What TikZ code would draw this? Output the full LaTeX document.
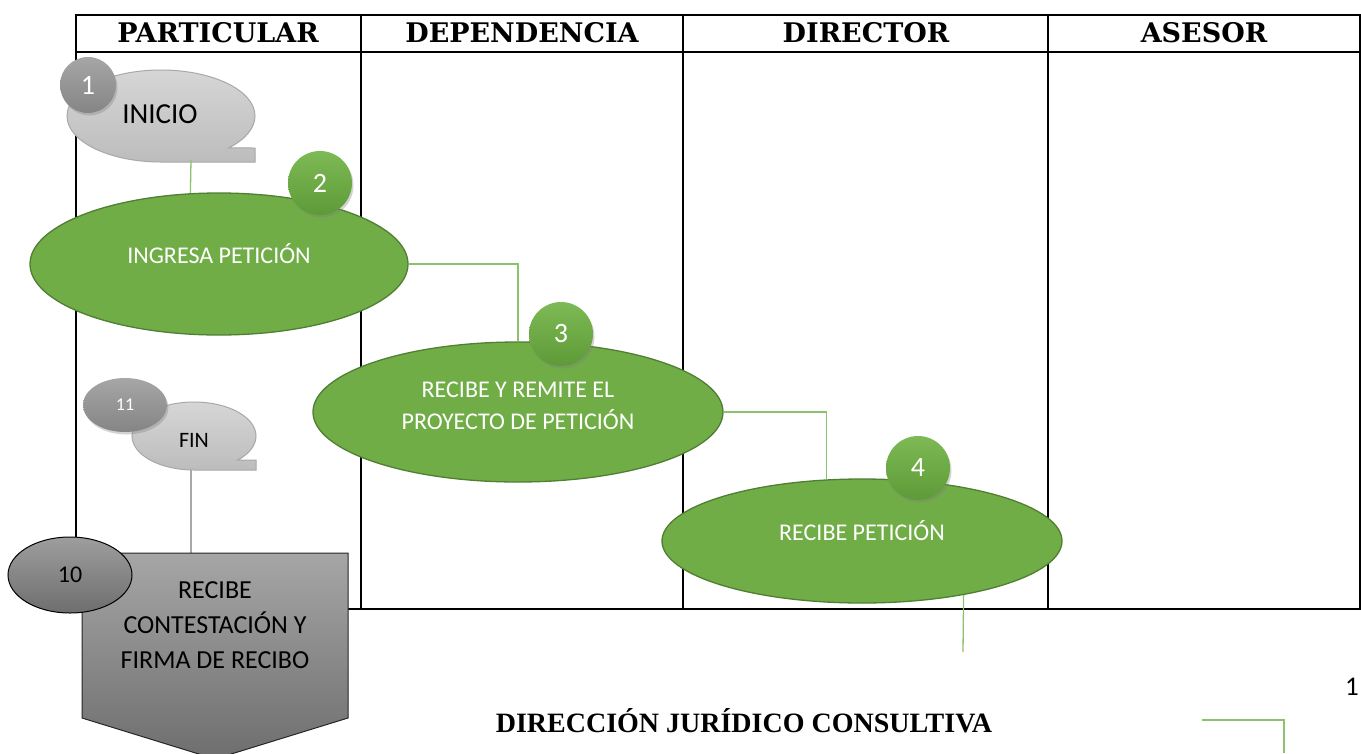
\documentclass[tikz,border=0pt]{standalone}
\usepackage{fontspec}
\setmainfont{Carlito}
\newfontfamily\encabezado{DejaVu Serif}
\newfontfamily\titulofont{Liberation Serif}
\usepackage{tikz}
\usetikzlibrary{shapes.geometric,shadows,calc}

\definecolor{verde}{HTML}{70AD47}
\definecolor{verdeosc}{HTML}{507E32}
\definecolor{verdeclaro}{HTML}{7DBA55}
\definecolor{verdeoscuro}{HTML}{5E9B38}
\definecolor{linverde}{HTML}{8DC26C}
\definecolor{grisclaro}{HTML}{D6D6D6}
\definecolor{grisborde}{HTML}{A8A8A8}
\definecolor{grismed}{HTML}{A6A6A6}
\definecolor{grisosc}{HTML}{6E6E6E}

\tikzset{
  tabla/.style={line width=2pt},
  actividad/.style={ellipse, draw=verdeosc, line width=1.3pt, fill=verde, inner sep=0pt},
  textoact/.style={text=white, font=\fontsize{24}{32}\selectfont, align=center},
  numverde/.style={circle, minimum size=64pt, inner sep=0pt, text=white,
    top color=verdeclaro, bottom color=verdeoscuro,
    drop shadow={opacity=0.35, shadow xshift=1.5pt, shadow yshift=-2.5pt},
    font=\fontsize{28}{30}\selectfont},
  numgris/.style={ellipse, inner sep=0pt, text=white, top color=grismed, bottom color=grismed!80!black,
    drop shadow={opacity=0.35, shadow xshift=1.5pt, shadow yshift=-2.5pt}},
  llamada/.style={draw=grisborde, line width=1pt, top color=grisclaro, bottom color=grisclaro!88!black},
  conector/.style={draw=linverde, line width=1.3pt},
  congris/.style={draw=grisborde, line width=1.3pt},
}

\begin{document}
\begin{tikzpicture}[x=1pt, y=-1pt]
    \useasboundingbox (0,0) rectangle (1361,753);

    % carriles
    \draw[tabla] (76,15) rectangle (1360,609);
    \draw[tabla] (76,52) -- (1360,52);
    \foreach \xx in {361,683,1048}
        \draw[tabla] (\xx,15) -- (\xx,609);
    \foreach \xx/\nombre/\txt in {218/hpart/PARTICULAR, 522/hdep/DEPENDENCIA, 866/hdir/DIRECTOR, 1204/hase/ASESOR}
        \node[font=\encabezado\bfseries\fontsize{27}{30}\selectfont] (\nombre) at (\xx,33) {\txt};

    % inicio
    \path[llamada] (161,162) arc[start angle=90, end angle=404, x radius=94, y radius=46]
        -- (255,148) -- (255,162) -- cycle;
    \node[font=\fontsize{29}{32}\selectfont] (inicio) at (160,114) {INICIO};
    \coordinate (iniB) at (191,160);

    % actividades
    \node[actividad, minimum width=378pt, minimum height=142pt,
        label={[textoact, yshift=10pt]center:INGRESA PETICIÓN}] (ingresa) at (219,264) {};
    \node[actividad, minimum width=410pt, minimum height=140pt,
        label={[textoact, yshift=6pt]center:RECIBE Y REMITE EL\\PROYECTO DE PETICIÓN}] (remite) at (518,412) {};
    \node[actividad, minimum width=400pt, minimum height=124pt,
        label={[textoact, yshift=10pt]center:RECIBE PETICIÓN}] (recibe) at (862,541) {};

    \draw[conector] (iniB) -- (ingresa.112);
    \draw[conector] (ingresa.east) -| (remite.north);
    \draw[conector] (remite.east) -| (recibe.120);
    \coordinate (salida) at (963,652);
    \draw[conector] (recibe.-28) -- (salida);

    % numeros
    \node[numgris, circle, minimum size=56pt, font=\fontsize{28}{30}\selectfont] (n1) at (88,85) {1};
    \node[numverde] (n2) at (320,183) {2};
    \node[numverde] (n3) at (561,334) {3};
    \node[numverde] (n4) at (918,468) {4};

    % fin
    \path[llamada] (194,470) arc[start angle=90, end angle=405, x radius=62, y radius=34]
        -- (256,460) -- (256,470) -- cycle;
    \node[font=\fontsize{22}{26}\selectfont] (fin) at (194,440) {FIN};
    \node[numgris, minimum width=84pt, minimum height=54pt, font=\fontsize{18}{20}\selectfont] (n11) at (125,405) {11};
    \coordinate (finB) at (191,470);
    \coordinate (pentT) at (191,553);
    \draw[congris] (finB) -- (pentT);

    % contestacion
    \path[draw=black!85, line width=1pt, top color=grismed, bottom color=grisosc]
        (82,553) -- (348,553) -- (348,718) -- (215,759) -- (82,718) -- cycle;
    \node[align=center, font=\fontsize{26}{35}\selectfont] (contesta) at (215,625)
        {RECIBE\\CONTESTACIÓN Y\\FIRMA DE RECIBO};
    \node[ellipse, draw=black, line width=1pt, minimum width=124pt, minimum height=76pt, inner sep=0pt,
        top color=grismed!95!black, bottom color=grisosc, font=\fontsize{24}{26}\selectfont] (n10) at (70,575) {10};

    % pie
    \node[font=\titulofont\bfseries\fontsize{28}{30}\selectfont] (titulo) at (744,721) {DIRECCIÓN JURÍDICO CONSULTIVA};
    \node[font=\fontsize{27}{30}\selectfont] (pag) at (1352,687) {1};
    \coordinate (cont1) at (1202,720);
    \coordinate (cont2) at (1284,753);
    \draw[conector] (cont1) -| (cont2);
\end{tikzpicture}
\end{document}
